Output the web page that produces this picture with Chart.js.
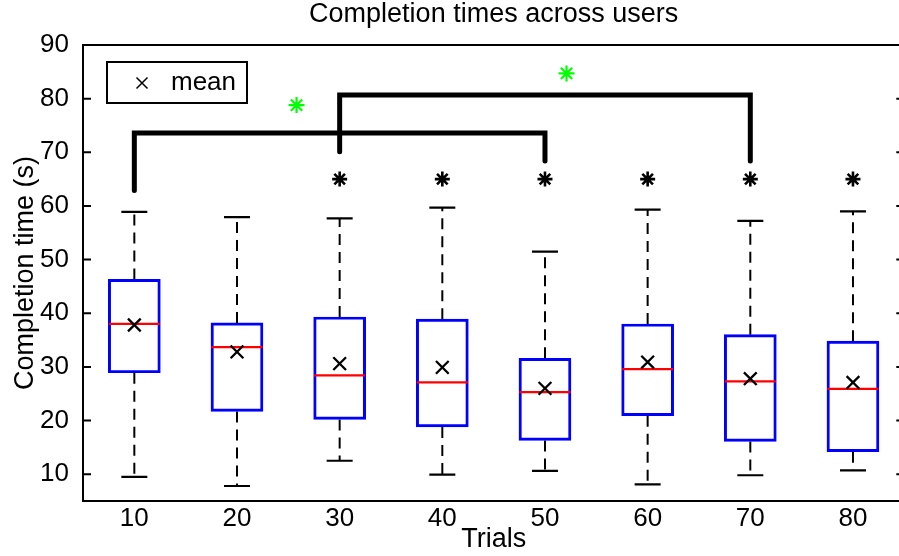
<!DOCTYPE html>
<html>
<head>
<meta charset="utf-8">
<style>
  html, body { margin: 0; padding: 0; background: #fff; overflow: hidden; }
  canvas { display: block; }
</style>
<script src="https://cdn.jsdelivr.net/npm/chart.js"></script>
</head>
<body>
<canvas id="chart1" width="932" height="556"></canvas>
<script>
const trials = [10, 20, 30, 40, 50, 60, 70, 80];
const whiskerLow = [9.5, 7.8, 12.5, 9.9, 10.6, 8.1, 9.8, 10.7];
const quartile1 = [28.9, 21.7, 20.2, 18.8, 16.3, 20.9, 16.1, 14.2];
const medians = [38.0, 33.7, 28.4, 27.1, 25.3, 29.6, 27.3, 25.9];
const quartile3 = [46.3, 38.2, 39.3, 38.9, 31.6, 38.0, 36.0, 34.8];
const whiskerHigh = [58.9, 57.9, 57.7, 59.7, 51.5, 59.3, 57.2, 59.0];
const means = [37.8, 32.8, 30.6, 29.9, 26.0, 30.9, 27.8, 27.1];

// significance marks
const starTrials = [30, 40, 50, 60, 70, 80];
const starLevel = 65;
const bracketA = [[10, 62.9], [10, 73.6], [50, 73.6], [50, 68.4]];
const bracketB = [[30, 70.1], [30, 80.7], [70, 80.7], [70, 68.4]];
const greenStars = [[25.8, 78.8], [52.1, 84.7]];

const yTicks = [10, 20, 30, 40, 50, 60, 70, 80, 90];

const font = '"Liberation Sans", Arial, sans-serif';
Chart.defaults.font.family = font;
Chart.defaults.color = '#000';

const pts = arr => arr.map(p => ({x: p[0], y: p[1]}));

// whisker segments, broken by null points
const whiskers = [];
trials.forEach((t, i) => {
    whiskers.push({x: t, y: quartile3[i]}, {x: t, y: whiskerHigh[i]}, {x: t, y: null});
    whiskers.push({x: t, y: quartile1[i]}, {x: t, y: whiskerLow[i]}, {x: t, y: null});
});
const caps = [];
trials.forEach((t, i) => {
    caps.push({x: t, y: whiskerHigh[i]}, {x: t, y: whiskerLow[i]});
});

// axes box with inward y ticks, plus the small "mean" legend
const frame = {
    id: 'frame',
    afterDraw(chart) {
        const {ctx, chartArea: a, scales: {y}} = chart;
        ctx.save();
        ctx.strokeStyle = '#000';
        ctx.lineWidth = 2;
        ctx.strokeRect(a.left, a.top, a.right - a.left, a.bottom - a.top);
        ctx.beginPath();
        y.ticks.forEach(t => {
            const py = y.getPixelForValue(t.value);
            ctx.moveTo(a.left, py); ctx.lineTo(a.left + 8, py);
            ctx.moveTo(a.right, py); ctx.lineTo(a.right - 8, py);
        });
        ctx.stroke();
        const lx = a.left + 24, ly = a.top + 17;
        ctx.strokeRect(lx, ly, 140, 41);
        const mx = lx + 35, my = ly + 21;
        ctx.lineWidth = 1.5;
        ctx.beginPath();
        ctx.moveTo(mx - 5.5, my - 5.5); ctx.lineTo(mx + 5.5, my + 5.5);
        ctx.moveTo(mx - 5.5, my + 5.5); ctx.lineTo(mx + 5.5, my - 5.5);
        ctx.stroke();
        ctx.fillStyle = '#000';
        ctx.font = '26px ' + font;
        ctx.textBaseline = 'middle';
        ctx.fillText('mean', lx + 64, my);
        ctx.restore();
    }
};

new Chart(document.getElementById('chart1'), {
    type: 'bar',
    data: {
        datasets: [{
            type: 'line',
            label: 'median',
            data: trials.map((t, i) => ({x: t, y: medians[i]})),
            showLine: false,
            pointStyle: 'line',
            pointRadius: 25.5,
            pointBorderColor: '#ff0000',
            pointBorderWidth: 2.2,
            order: 1
        }, {
            type: 'line',
            label: 'mean',
            data: trials.map((t, i) => ({x: t, y: means[i]})),
            showLine: false,
            pointStyle: 'crossRot',
            pointRadius: 9,
            pointBorderColor: '#000',
            pointBorderWidth: 2.3,
            order: 0
        }, {
            label: 'box',
            data: trials.map((t, i) => ({x: t, y: [quartile1[i], quartile3[i]]})),
            backgroundColor: 'rgba(0,0,0,0)',
            borderColor: '#0000ff',
            borderWidth: 2.3,
            borderSkipped: false,
            barThickness: 52,
            order: 3
        }, {
            type: 'line',
            label: 'whiskers',
            data: whiskers,
            borderColor: '#000',
            borderWidth: 2,
            borderDash: [11, 7],
            pointRadius: 0,
            spanGaps: false,
            order: 4
        }, {
            type: 'line',
            label: 'caps',
            data: caps,
            showLine: false,
            pointStyle: 'line',
            pointRadius: 13,
            pointBorderColor: '#000',
            pointBorderWidth: 2.2,
            order: 2
        }, {
            type: 'line',
            label: 'bracketA',
            data: pts(bracketA),
            borderColor: '#000',
            borderWidth: 5,
            borderCapStyle: 'round',
            borderJoinStyle: 'miter',
            pointRadius: 0,
            order: 2
        }, {
            type: 'line',
            label: 'bracketB',
            data: pts(bracketB),
            borderColor: '#000',
            borderWidth: 5,
            borderCapStyle: 'round',
            borderJoinStyle: 'miter',
            pointRadius: 0,
            order: 2
        }, {
            type: 'line',
            label: 'stars',
            data: starTrials.map(t => ({x: t, y: starLevel})),
            showLine: false,
            pointStyle: 'star',
            pointRadius: 7.5,
            pointBorderColor: '#000',
            pointBorderWidth: 2.6,
            order: 2
        }, {
            type: 'line',
            label: 'green',
            data: pts(greenStars),
            showLine: false,
            pointStyle: 'star',
            pointRadius: 8,
            pointBorderColor: '#00ff00',
            pointBorderWidth: 2.2,
            order: 2
        }]
    },
    options: {
        responsive: false,
        animation: false,
        events: [],
        layout: {padding: {left: 0, right: 0, top: 0, bottom: 0}},
        plugins: {
            legend: {display: false},
            tooltip: {enabled: false},
            title: {
                display: true,
                text: 'Completion times across users',
                fullSize: false,
                font: {size: 27, weight: 'normal', lineHeight: 1},
                padding: {top: 1, bottom: 17},
                color: '#000'
            }
        },
        scales: {
            x: {
                type: 'linear',
                min: 5,
                max: 85,
                offset: false,
                afterFit: s => { s.height = 55; s.paddingLeft = 0; s.paddingRight = 0; },
                afterBuildTicks: s => { s.ticks = trials.map(v => ({value: v})); },
                grid: {display: false},
                border: {display: false},
                ticks: {font: {size: 26, lineHeight: 1}, padding: -3, color: '#000', maxRotation: 0},
                title: {display: true, text: 'Trials', font: {size: 27}, padding: {top: 0, bottom: 0}, color: '#000'}
            },
            y: {
                min: 5,
                max: 90,
                afterFit: s => { s.width = 83; s.paddingTop = 0; s.paddingBottom = 0; },
                afterBuildTicks: s => { s.ticks = yTicks.map(v => ({value: v})); },
                grid: {display: false},
                border: {display: false},
                ticks: {font: {size: 26}, padding: 6, color: '#000'},
                title: {display: true, text: 'Completion time (s)', font: {size: 27}, padding: {top: 9, bottom: 0}, color: '#000'}
            }
        }
    },
    plugins: [frame]
});
</script>
</body>
</html>
